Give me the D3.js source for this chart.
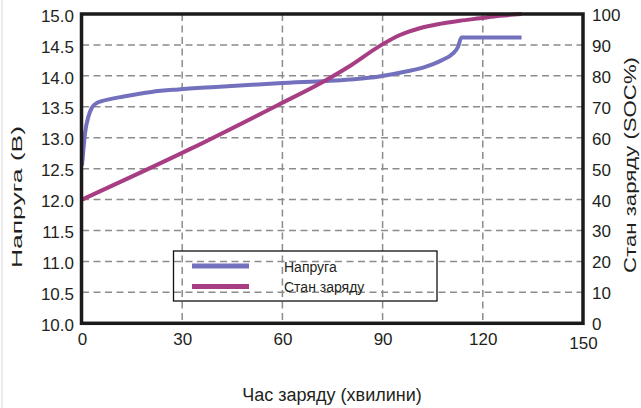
<!DOCTYPE html>
<html><head><meta charset="utf-8">
<script src="https://cdn.jsdelivr.net/npm/d3@7/dist/d3.min.js"></script>
<style>
html,body{margin:0;padding:0;background:#fff;}
svg{display:block;font-family:"Liberation Sans",Arial,Helvetica,sans-serif;}
</style></head>
<body>
<svg id="chart" width="641" height="408"></svg>
<script>
// ---- data ----
const timeTicks = [0, 30, 60, 90, 120, 150];
const voltTicks = [10.0, 10.5, 11.0, 11.5, 12.0, 12.5, 13.0, 13.5, 14.0, 14.5, 15.0];
const socTicks = [0, 10, 20, 30, 40, 50, 60, 70, 80, 90, 100];

const voltTime = [0, 0.4, 0.9, 1.9, 2.9, 4.4, 5.9, 12.9, 20.8, 28.8, 40, 58.7, 80, 89, 97, 103, 108, 111, 112.6, 113.6, 131.6];
const voltValues = [12.55, 12.8, 13.07, 13.34, 13.48, 13.56, 13.59, 13.67, 13.74, 13.78, 13.82, 13.88, 13.94, 13.99, 14.07, 14.15, 14.26, 14.36, 14.47, 14.62, 14.62];

const socTime = [0, 32.3, 58.7, 72.2, 80.2, 89.2, 95.2, 101.1, 107.1, 113.1, 119.1, 125.1, 131.6];
const socValues = [40, 56.3, 70.6, 78.1, 83.2, 89.7, 93.2, 95.4, 96.8, 97.8, 98.6, 99.4, 100];

const seriesNames = ["Напруга", "Стан заряду"];
const xTitle = "Час заряду (хвилини)";
const yLeftTitle = "Напруга (В)";
const yRightTitle = "Стан заряду (SOC%)";

// ---- layout ----
const colors = {volt: "#7371bd", soc: "#a73e84", text: "#231f20", grid: "#8c8c8c", axis: "#1c1a1a"};
const L = 82, R = 583, T = 14, B = 323.3;

const svg = d3.select("#chart");
const x = d3.scaleLinear().domain([0, 150]).range([L, R]);
const yL = d3.scaleLinear().domain([10, 15]).range([B, T]);
const yR = d3.scaleLinear().domain([0, 100]).range([B, T]);

// faint page border at left
svg.append("line").attr("x1", 2).attr("x2", 2).attr("y1", 0).attr("y2", 408)
  .attr("stroke", "#e4e4e4").attr("stroke-width", 1.5);

// grid
const grid = svg.append("g");
grid.selectAll("line.h").data(voltTicks.slice(1, -1)).join("line")
  .attr("x1", L).attr("x2", R).attr("y1", d => yL(d)).attr("y2", d => yL(d))
  .attr("stroke", colors.grid).attr("stroke-width", 1.5).attr("stroke-dasharray", "7,4.5");
grid.selectAll("line.v").data(timeTicks.slice(1, -1)).join("line")
  .attr("y1", T).attr("y2", B).attr("x1", d => x(d)).attr("x2", d => x(d))
  .attr("stroke", colors.grid).attr("stroke-width", 1.5).attr("stroke-dasharray", "7,4.5");

// axes (labels via d3 axes, no domain/ticks lines)
const fs = "17px";
const axL = svg.append("g").attr("transform", `translate(${L},0)`)
  .call(d3.axisLeft(yL).tickValues(voltTicks).tickFormat(d3.format(".1f")).tickSize(0).tickPadding(8));
const axR = svg.append("g").attr("transform", `translate(${R},0)`)
  .call(d3.axisRight(yR).tickValues(socTicks).tickFormat(d3.format("d")).tickSize(0).tickPadding(9));
const axB = svg.append("g").attr("transform", `translate(0,${B})`)
  .call(d3.axisBottom(x).tickValues(timeTicks).tickFormat(d3.format("d")).tickSize(0).tickPadding(10));
[axL, axR, axB].forEach(a => {
  a.select(".domain").remove();
  a.selectAll("text").attr("fill", colors.text).style("font-size", fs)
    .style("font-family", "'Liberation Sans',Arial,sans-serif");
});
axL.selectAll("text").attr("dy", "0.42em");
axR.selectAll("text").attr("dy", "0.38em");
axB.selectAll("text").filter(d => d === 150).attr("y", 14);

// lines
const lineV = d3.line().x(d => x(d[0])).y(d => yL(d[1])).curve(d3.curveMonotoneX);
const lineS = d3.line().x(d => x(d[0])).y(d => yR(d[1])).curve(d3.curveMonotoneX);
svg.append("path").datum(d3.zip(voltTime, voltValues)).attr("d", lineV)
  .attr("fill", "none").attr("stroke", colors.volt).attr("stroke-width", 4).attr("stroke-linejoin", "round");
svg.append("path").datum(d3.zip(socTime, socValues)).attr("d", lineS)
  .attr("fill", "none").attr("stroke", colors.soc).attr("stroke-width", 4).attr("stroke-linejoin", "round");

// frame
svg.append("rect").attr("x", L - 0.5).attr("y", T).attr("width", R - L + 0.5).attr("height", B - T)
  .attr("fill", "none").attr("stroke", colors.axis).attr("stroke-width", 3.5);

// titles
svg.append("text").attr("x", 332).attr("y", 401).attr("text-anchor", "middle")
  .attr("fill", colors.text).style("font-size", "18px").text(xTitle);
svg.append("text").attr("transform", "translate(22,197) rotate(-90)").attr("text-anchor", "middle")
  .attr("fill", colors.text).style("font-size", "15px")
  .attr("textLength", 142).attr("lengthAdjust", "spacingAndGlyphs").text(yLeftTitle);
svg.append("text").attr("transform", "translate(636,165) rotate(-90)").attr("text-anchor", "middle")
  .attr("fill", colors.text).style("font-size", "16px")
  .attr("textLength", 216).attr("lengthAdjust", "spacingAndGlyphs").text(yRightTitle);

// legend
const lg = svg.append("g");
lg.append("rect").attr("x", 173.5).attr("y", 251).attr("width", 263.5).attr("height", 50)
  .attr("fill", "none").attr("stroke", "#111").attr("stroke-width", 1.3);
const legColors = [colors.volt, colors.soc];
const legY = [266, 286.5];
seriesNames.forEach((name, i) => {
  lg.append("line").attr("x1", 192).attr("x2", 249).attr("y1", legY[i]).attr("y2", legY[i])
    .attr("stroke", legColors[i]).attr("stroke-width", 5);
  lg.append("text").attr("x", 284).attr("y", legY[i] + 5.5).attr("fill", colors.text)
    .style("font-size", "14px").text(name);
});
</script>
</body></html>
